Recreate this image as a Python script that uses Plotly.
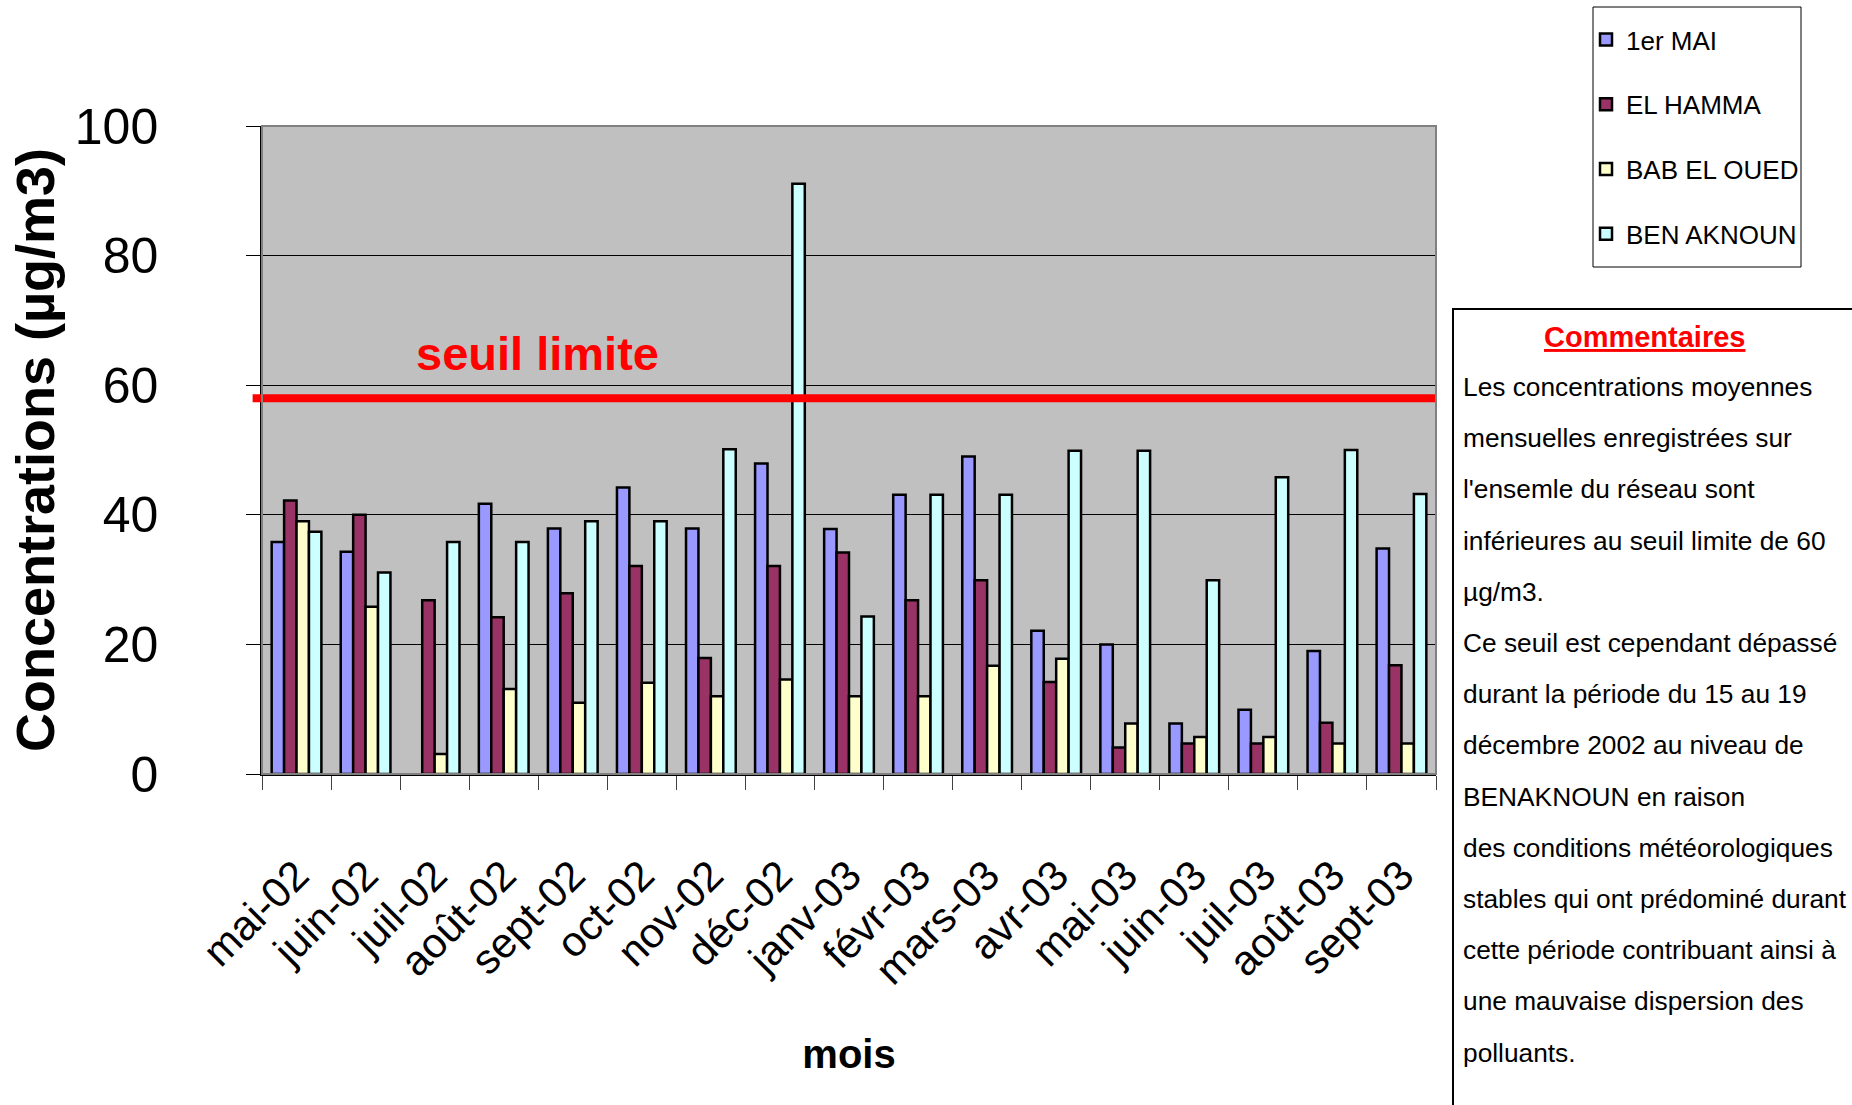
import plotly.graph_objects as go

# Monthly mean concentrations per monitoring station (µg/m3)
months = ["mai-02", "juin-02", "juil-02", "août-02", "sept-02", "oct-02", "nov-02",
          "déc-02", "janv-03", "févr-03", "mars-03", "avr-03", "mai-03", "juin-03",
          "juil-03", "août-03", "sept-03"]

premier_mai = [35.8, 34.3, None, 41.7, 37.9, 44.2, 37.9, 47.9, 37.8, 43.1, 49.0,
               22.1, 20.0, 7.8, 9.9, 19.0, 34.8]
el_hamma = [42.2, 40.0, 26.8, 24.2, 27.9, 32.1, 17.9, 32.1, 34.2, 26.8, 29.9,
            14.2, 4.1, 4.7, 4.7, 7.9, 16.8]
bab_el_oued = [39.0, 25.8, 3.1, 13.1, 11.0, 14.1, 12.0, 14.6, 12.0, 12.0, 16.7,
               17.8, 7.8, 5.7, 5.7, 4.7, 4.7]
ben_aknoun = [37.4, 31.1, 35.8, 35.8, 39.0, 39.0, 50.1, 91.1, 24.3, 43.1, 43.1,
              49.9, 49.9, 29.9, 45.8, 50.0, 43.2]

SEUIL = 58  # threshold line level

y_ticks = [0, 20, 40, 60, 80, 100]

comment_title = "Commentaires"
comment_lines = [
    "Les concentrations moyennes",
    "mensuelles enregistrées sur",
    "l'ensemle du réseau sont",
    "inférieures au seuil limite de 60",
    "µg/m3.",
    "Ce seuil est cependant dépassé",
    "durant la période du 15 au 19",
    "décembre 2002 au niveau de",
    "BENAKNOUN en raison",
    "des conditions météorologiques",
    "stables qui ont prédominé durant",
    "cette période contribuant ainsi à",
    "une mauvaise dispersion des",
    "polluants.",
]

SANS = "Liberation Sans, Arial, sans-serif"

series = [
    ("1er MAI", premier_mai, "#9999FF"),
    ("EL HAMMA", el_hamma, "#993366"),
    ("BAB EL OUED", bab_el_oued, "#FFFFCC"),
    ("BEN AKNOUN", ben_aknoun, "#CCFFFF"),
]

W, H = 1852, 1105
ML, MR, MT, MB = 262, 416, 126, 331
PW, PH = W - ML - MR, H - MT - MB


def px_x(px):
    return (px - ML) / PW


def px_y(py):
    return (H - MB - py) / PH


fig = go.Figure()
for name, vals, color in series:
    fig.add_trace(go.Bar(
        x=months, y=vals, name=name, legendgroup=name,
        marker=dict(color=color, line=dict(color="black", width=2.5)),
    ))

# Threshold line and its label
fig.add_shape(type="line", xref="paper", yref="y", x0=-0.008, x1=1, y0=SEUIL, y1=SEUIL,
              line=dict(color="#FF0000", width=8), layer="above")
fig.add_annotation(xref="paper", yref="y", x=px_x(537), y=SEUIL, xanchor="center",
                   yanchor="bottom", yshift=16, showarrow=False, text="<b>seuil limite</b>",
                   font=dict(family=SANS, size=47, color="#FF0000"))

# Plot-area frame
fig.add_shape(type="rect", xref="paper", yref="paper", x0=0, x1=1, y0=0, y1=1,
              line=dict(color="#808080", width=2), layer="above")

# Legend frame
fig.add_shape(type="rect", xref="paper", yref="paper",
              x0=px_x(1593), x1=px_x(1801), y0=px_y(267), y1=px_y(7),
              line=dict(color="black", width=1), fillcolor="white", layer="below")

# Comment box
fig.add_shape(type="rect", xref="paper", yref="paper",
              x0=px_x(1453), x1=px_x(1870), y0=px_y(1120), y1=px_y(309),
              line=dict(color="black", width=2), fillcolor="white", layer="below")
fig.add_annotation(xref="paper", yref="paper", x=px_x(1644), y=px_y(337),
                   xanchor="center", yanchor="middle", showarrow=False,
                   text="<b><u>" + comment_title + "</u></b>",
                   font=dict(family=SANS, size=29, color="#FF0000"))
for i, line in enumerate(comment_lines):
    fig.add_annotation(xref="paper", yref="paper", x=px_x(1461), y=px_y(387 + 51.2 * i),
                       xanchor="left", yanchor="middle", showarrow=False, text=line,
                       font=dict(family=SANS, size=26.3, color="black"))

fig.update_layout(
    width=W, height=H,
    margin=dict(l=ML, r=MR, t=MT, b=MB, autoexpand=False),
    paper_bgcolor="white", plot_bgcolor="#C0C0C0",
    barmode="group", bargap=0.28, bargroupgap=0,
    showlegend=True,
    legend=dict(x=px_x(1586), y=px_y(16), xanchor="left", yanchor="top",
                borderwidth=0, bgcolor="rgba(0,0,0,0)",
                font=dict(family=SANS, size=26, color="black"),
                tracegroupgap=28, itemwidth=30),
    xaxis=dict(
        type="category", tickson="boundaries", ticks="outside", ticklen=14,
        tickcolor="#404040", tickangle=-45, ticklabelstandoff=58,
        tickfont=dict(family=SANS, size=42, color="black"),
        showline=True, linecolor="black", linewidth=1.5, showgrid=False,
        automargin=False,
        title=dict(text="<b>mois</b>", font=dict(family=SANS, size=40, color="black"),
                   standoff=48),
    ),
    yaxis=dict(
        range=[0, 100], tickvals=y_ticks, ticks="outside", ticklen=14, tickcolor="black",
        ticklabelstandoff=78, tickfont=dict(family=SANS, size=50, color="black"),
        showline=True, linecolor="black", linewidth=1.5,
        showgrid=True, gridcolor="black", gridwidth=1, zeroline=False,
        automargin=False,
        title=dict(text="<b>Concentrations (µg/m3)</b>",
                   font=dict(family=SANS, size=54, color="black"), standoff=3),
    ),
)

fig.write_html("out.html")
